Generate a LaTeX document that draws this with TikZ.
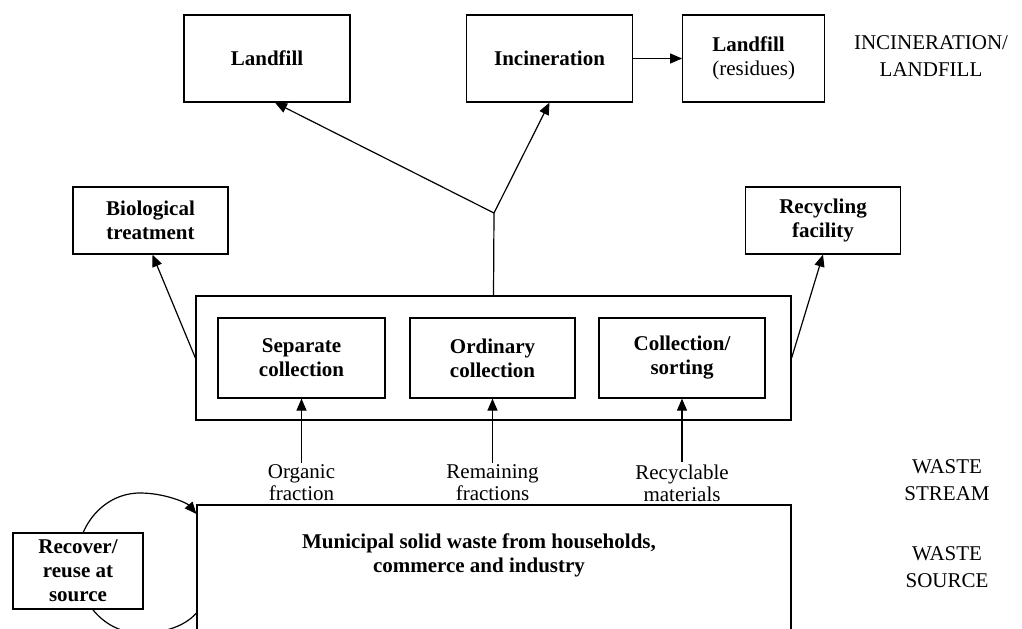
\documentclass[tikz,border=0pt]{standalone}
\usepackage{fontspec}
\setmainfont{Liberation Serif}
\usetikzlibrary{positioning,arrows.meta}

\tikzset{
  wbox/.style={draw, line width=0.6pt, fill=white, align=center, inner sep=2pt,
    font=\fontsize{10.5}{12}\selectfont\bfseries},
  stage/.style={align=center, font=\fontsize{10.5}{13.5}\selectfont},
  flow/.style={align=center, inner sep=1pt, font=\fontsize{10.5}{11}\selectfont},
  link/.style={line width=0.6pt, -{Triangle[length=6pt,width=5pt]}},
  plain/.style={line width=0.6pt}
}

\begin{document}
\begin{tikzpicture}[x=0.5pt,y=-0.5pt]
	  \clip (0,0) rectangle (1022,628);

	  % Define nodes
	  \node[wbox, minimum width=83pt, minimum height=43.5pt] (lf) at (267,58.5) {Landfill};
	  \node[wbox, minimum width=83pt, minimum height=43.5pt] (inc) at (549.5,58.5) {Incineration};
	  \node[wbox, minimum width=71pt, minimum height=43.5pt, align=left, right=24.5pt of inc] (lfr)
	    {Landfill\\\mdseries(residues)};
	  \node[stage] (incl) at (931,56) {INCINERATION/\\LANDFILL};

	  \node[wbox, minimum width=77.5pt, minimum height=33.5pt] (bio) at (150.5,220.5) {Biological\\treatment};
	  \node[wbox, minimum width=77.5pt, minimum height=33.5pt] (rec) at (823,220.5) {Recycling\\facility};

	  \node[wbox, minimum width=297.5pt, minimum height=62pt] (coll) at (493.5,358) {};
	  \node[wbox, minimum width=83.5pt, minimum height=40pt] (sep) at (301.5,358) {Separate\\collection};
	  \node[wbox, minimum width=82.5pt, minimum height=40pt] (ord) at (492.5,358) {Ordinary\\collection};
	  \node[wbox, minimum width=83pt, minimum height=40pt] (sort) at (682,358) {Collection/\\sorting};
	  \coordinate (jn) at (494,213);

	  \node[flow] (orgl) at (301.5,483) {Organic\\fraction};
	  \node[flow] (reml) at (492.5,483) {Remaining\\fractions};
	  \node[flow] (recl) at (682,483) {Recyclable\\materials};
	  \node[stage] (streaml) at (947,480) {WASTE\\STREAM};

	  \node[wbox, minimum width=297pt, minimum height=100pt] (src) at (494,605) {};
	  \node[wbox, draw=none, fill=none] (srctext) at (479,555)
	    {Municipal solid waste from households,\\commerce and industry};
	  \node[stage] (sourcel) at (947,567) {WASTE\\SOURCE};

	  % Loop back to the source
	  \draw[link] (src.west |- 0,613) .. controls (185,626) and (165,633) .. (140,633)
	    .. controls (105,633) and (77,602) .. (77,563)
	    .. controls (77,524) and (105,493) .. (140,493)
	    .. controls (165,493) and (187,503) .. (src.west |- 0,514);
	  \node[wbox, minimum width=65pt, minimum height=38pt] (rcv) at (78,571) {Recover/\\reuse at\\source};

	  % Connect the nodes
	  \draw[link] (inc) -- (lfr);
	  \draw[plain] (coll.north) -- (jn);
	  \draw[link] (jn) -- ([xshift=4pt]lf.south);
	  \draw[link] (jn) -- (inc.south);
	  \draw[link] (coll.west) -- ([xshift=1pt]bio.south);
	  \draw[link] (coll.east) -- (rec.south);
	  \draw[link] (orgl) -- (sep);
	  \draw[link] (reml) -- (ord);
	  \draw[link] (recl) -- (sort);
	\end{tikzpicture}
\end{document}
